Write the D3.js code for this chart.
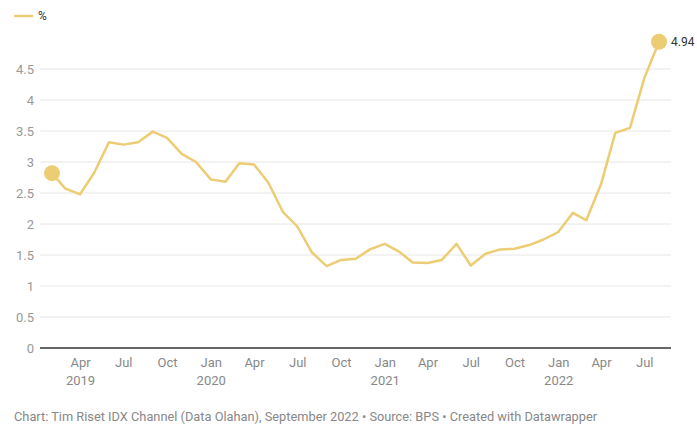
<!DOCTYPE html>
<html><head><meta charset="utf-8">
<script src="https://cdn.jsdelivr.net/npm/d3@7"></script>
<style>
body{margin:0;background:#fff;font-family:Roboto,"Noto Sans",sans-serif;}
svg{display:block}
</style></head><body>
<svg id="c" width="697" height="427"></svg>
<script>
const months = [
 "2019-01-31","2019-02-28","2019-03-31","2019-04-30","2019-05-31","2019-06-30","2019-07-31","2019-08-31","2019-09-30","2019-10-31","2019-11-30","2019-12-31",
 "2020-01-31","2020-02-29","2020-03-31","2020-04-30","2020-05-31","2020-06-30","2020-07-31","2020-08-31","2020-09-30","2020-10-31","2020-11-30","2020-12-31",
 "2021-01-31","2021-02-28","2021-03-31","2021-04-30","2021-05-31","2021-06-30","2021-07-31","2021-08-31","2021-09-30","2021-10-31","2021-11-30","2021-12-31",
 "2022-01-31","2022-02-28","2022-03-31","2022-04-30","2022-05-31","2022-06-30","2022-07-31"];
const inflation = [
 2.82,2.57,2.48,2.83,3.32,3.28,3.32,3.49,3.39,3.13,3.00,2.72,
 2.68,2.98,2.96,2.67,2.19,1.96,1.54,1.32,1.42,1.44,1.59,1.68,
 1.55,1.38,1.37,1.42,1.68,1.33,1.52,1.59,1.60,1.66,1.75,1.87,
 2.18,2.06,2.64,3.47,3.55,4.35,4.94];
const yTicks = [0,0.5,1,1.5,2,2.5,3,3.5,4,4.5];
const xTickDates = ["2019-04-01","2019-07-01","2019-10-01","2020-01-01","2020-04-01","2020-07-01","2020-10-01","2021-01-01","2021-04-01","2021-07-01","2021-10-01","2022-01-01","2022-04-01","2022-07-01"];
const seriesName = "%";
const footer = "Chart: Tim Riset IDX Channel (Data Olahan), September 2022 \u2022 Source: BPS \u2022 Created with Datawrapper";

const parse = d3.utcParse("%Y-%m-%d");
const data = months.map((m,i)=>({date:parse(m), value:inflation[i]}));
const col = "#eccd74";
const svg = d3.select("#c");

const gridL = 40, gridR = 671;
const x = d3.scaleUtc().domain(d3.extent(data,d=>d.date)).range([52,659]);
const y = d3.scaleLinear().domain([0,4.5]).range([348,69]);

// grid
const gy = svg.append("g");
gy.selectAll("line").data(yTicks.filter(t=>t>0)).join("line")
  .attr("x1",gridL).attr("x2",gridR)
  .attr("y1",d=>y(d)).attr("y2",d=>y(d))
  .attr("stroke","#e6e6e6").attr("stroke-width",1);
gy.selectAll("text").data(yTicks).join("text")
  .attr("x",34).attr("y",d=>y(d)).attr("dy","0.36em")
  .attr("text-anchor","end").attr("fill","#999").attr("font-size",13)
  .text(d=>d);

// baseline
svg.append("line").attr("x1",gridL).attr("x2",gridR).attr("y1",y(0)).attr("y2",y(0))
  .attr("stroke","#333").attr("stroke-width",1.5);

// x labels
const fmtM = d3.utcFormat("%b"), fmtY = d3.utcFormat("%Y");
const xt = svg.append("g").selectAll("g").data(xTickDates.map(parse)).join("g");
xt.append("text").attr("x",d=>x(d)).attr("y",367).attr("text-anchor","middle")
  .attr("fill","#888").attr("font-size",13).text(d=>fmtM(d));
xt.filter((d,i)=>i===0 || d.getUTCMonth()===0).append("text")
  .attr("x",d=>x(d)).attr("y",385).attr("text-anchor","middle")
  .attr("fill","#888").attr("font-size",13).text(d=>fmtY(d));

// line
svg.append("path").datum(data)
  .attr("d",d3.line().x(d=>x(d.date)).y(d=>y(d.value)))
  .attr("fill","none").attr("stroke",col).attr("stroke-width",2.5)
  .attr("stroke-linejoin","round");

// end points
const ends = [data[0], data[data.length-1]];
svg.selectAll("circle.end").data(ends).join("circle")
  .attr("cx",d=>x(d.date)).attr("cy",d=>y(d.value)).attr("r",8).attr("fill",col);
svg.append("text").attr("x",x(ends[1].date)+12).attr("y",y(ends[1].value)).attr("dy","0.36em")
  .attr("fill","#333").attr("font-size",12).text(ends[1].value.toFixed(2));

// legend
svg.append("line").attr("x1",14).attr("x2",33).attr("y1",16).attr("y2",16)
  .attr("stroke",col).attr("stroke-width",2.5);
svg.append("text").attr("x",38).attr("y",16).attr("dy","0.36em").attr("fill","#333")
  .attr("font-size",12).text(seriesName);

// footer
svg.append("text").attr("x",14).attr("y",421).attr("fill","#888").attr("font-size",12.8)
  .text(footer);
</script></body></html>
